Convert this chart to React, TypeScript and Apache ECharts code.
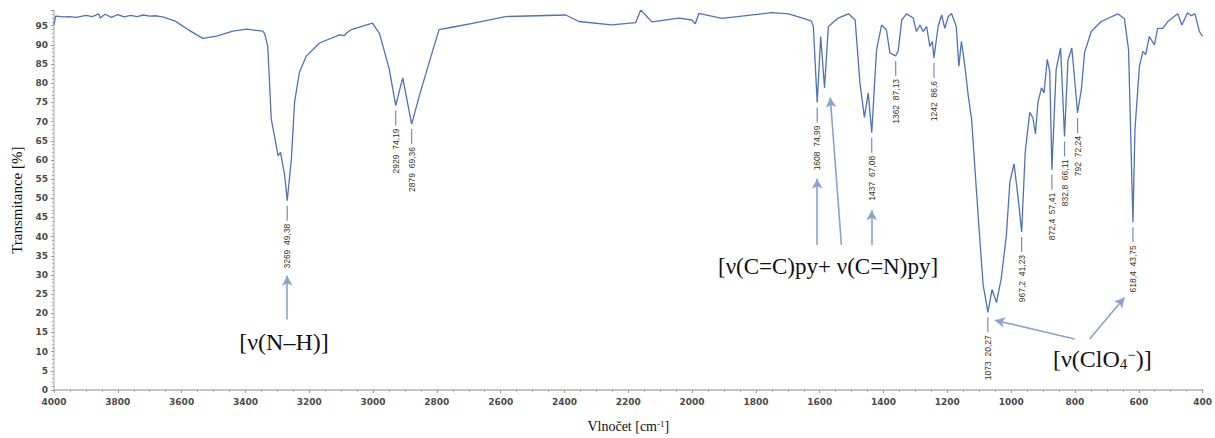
import React, { useEffect, useRef } from "react";
import * as echarts from "echarts";

// Spectrum: wavenumber [cm-1] and transmittance [%]
const wavenumbers = [
  4000, 3995, 3970, 3950, 3930, 3900, 3880, 3860, 3855, 3840, 3820, 3800, 3780, 3760, 3740, 3720, 3700, 3680,
  3660, 3647, 3620, 3580, 3534, 3490, 3440, 3396, 3346, 3340, 3330, 3319, 3309, 3298, 3290, 3277, 3269,
  3256, 3246, 3231, 3210, 3168, 3105, 3090, 3083, 3068, 3002, 2980, 2949, 2929, 2907, 2879, 2855, 2815,
  2793, 2740, 2689, 2584, 2396, 2355, 2252, 2177, 2161, 2126, 2041, 2001, 1990, 1979, 1907, 1751, 1698,
  1646, 1626, 1620, 1608, 1597, 1585, 1573, 1542, 1510, 1489, 1474, 1460, 1448, 1437, 1422, 1406, 1391,
  1380, 1362, 1354, 1343, 1328, 1307, 1297, 1286, 1276, 1265, 1255, 1247, 1242, 1229, 1218, 1208, 1197,
  1187, 1172, 1164, 1156, 1145, 1135, 1124, 1103, 1088, 1073, 1060, 1046, 1031, 1015, 1004, 991, 978,
  967.2, 956, 942, 932, 924, 916, 905, 897, 887, 879, 872.4, 859, 845, 832.8, 822, 810, 800, 792, 780,
  770, 749, 718, 666, 645, 632, 618.4, 612, 598, 587, 578, 567, 551, 541, 525, 509, 478, 465, 447, 436,
  424, 410, 400,
];
const transmittance = [
  95.2, 97.5, 97.3, 97.4, 97.2, 97.7, 97.4, 98.1, 97.0, 98.0, 97.2, 97.9, 97.3, 97.7, 97.4, 97.8, 97.5, 97.6,
  97.3, 97.0, 96.2, 94.0, 91.7, 92.3, 93.6, 94.1, 93.6, 93.0, 89.6, 70.6, 66.3, 61.1, 62.0, 56.0, 49.38,
  60.3, 75.0, 82.8, 87.0, 90.5, 92.6, 92.4, 93.1, 94.0, 95.7, 93.0, 83.6, 74.19, 81.4, 69.36, 76.7, 88.0,
  94.0, 94.8, 95.6, 97.4, 97.8, 96.1, 95.2, 95.8, 99.1, 96.0, 97.0, 96.5, 95.5, 98.2, 96.9, 98.4, 98.1,
  96.8, 96.2, 94.8, 74.99, 92.2, 78.8, 94.8, 97.0, 98.1, 96.5, 80.1, 71.1, 77.5, 67.08, 88.7, 95.2, 93.9,
  87.9, 87.13, 88.5, 96.5, 98.1, 97.0, 93.5, 95.2, 93.5, 94.8, 89.6, 90.9, 86.6, 94.8, 97.8, 94.3, 97.4,
  98.2, 94.8, 84.4, 90.9, 84.4, 77.0, 70.6, 44.8, 27.5, 20.27, 26.2, 22.8, 29.2, 40.4, 54.3, 59.0, 49.9,
  41.23, 62.0, 72.4, 71.0, 66.8, 75.0, 78.8, 77.5, 86.2, 83.0, 57.41, 83.6, 89.2, 66.11, 86.0, 89.2, 80.0, 72.24, 78.4,
  88.0, 93.5, 96.1, 98.1, 96.8, 88.7, 43.75, 68.0, 84.4, 88.3, 87.5, 92.2, 90.0, 94.3, 94.3, 96.1, 98.1, 95.2, 98.4, 97.6,
  98.1, 93.5, 92.2,
];

// Labelled peaks
const peakWavenumbers = [3269, 2929, 2879, 1608, 1437, 1362, 1242, 1073, 967.2, 872.4, 832.8, 792, 618.4];
const peakTransmittance = [49.38, 74.19, 69.36, 74.99, 67.08, 87.13, 86.6, 20.27, 41.23, 57.41, 66.11, 72.24, 43.75];

// Annotation arrows (data coordinates: start -> end)
const arrowStarts = [[3269, 18.4], [1608, 37.8], [1532, 37.8], [1437, 37.8], [801, 13.3], [754, 13.3]];
const arrowEnds = [[3269, 29.8], [1608, 55.1], [1567, 76.3], [1437, 46.9], [1051, 18.2], [645, 24.1]];

const xTicks = { min: 400, max: 4000, interval: 200 };
const yTicks = { min: 0, max: 99, interval: 5 };

const fmt = (n: number) => String(n).replace(".", ",");

export default function App() {
  const ref = useRef<HTMLDivElement>(null);
  useEffect(() => {
    document.body.style.margin = "0";
    const chart = echarts.init(ref.current!, null, { renderer: "svg" });
    const axisLabelStyle = { fontSize: 9, color: "#4a4a4a", fontWeight: "bold" as const, fontFamily: "DejaVu Sans" };
    const serif = "Liberation Serif";
    chart.setOption({
      animation: false,
      grid: { left: 54, right: 10, top: 10.4, bottom: 45 },
      xAxis: {
        type: "value",
        inverse: true,
        min: xTicks.min,
        max: xTicks.max,
        interval: xTicks.interval,
        axisLine: { lineStyle: { color: "#c4c4c4", width: 2 } },
        axisTick: { show: true, length: 3, lineStyle: { color: "#9a9a9a" } },
        minorTick: { show: true, splitNumber: 4, length: 2, lineStyle: { color: "#b0b0b0" } },
        splitLine: { show: false },
        axisLabel: { ...axisLabelStyle, margin: 7, formatter: (v: number) => String(v) },
        name: "{a|Vlnočet [cm}{s|-1}{a|]}",
        nameLocation: "middle",
        nameGap: 29,
        nameTextStyle: {
          rich: {
            a: { fontFamily: serif, fontSize: 14, color: "#111" },
            s: { fontFamily: serif, fontSize: 9, color: "#111", verticalAlign: "top" },
          },
        },
      },
      yAxis: {
        type: "value",
        min: yTicks.min,
        max: yTicks.max,
        interval: yTicks.interval,
        axisLine: { show: true, lineStyle: { color: "#c4c4c4", width: 1.5 } },
        axisTick: { show: true, length: 3, lineStyle: { color: "#9a9a9a" } },
        minorTick: { show: true, splitNumber: 5, length: 2, lineStyle: { color: "#b0b0b0" } },
        splitLine: { show: false },
        axisLabel: { ...axisLabelStyle, margin: 6, showMaxLabel: false, formatter: (v: number) => String(v) },
        name: "Transmitance [%]",
        nameLocation: "middle",
        nameRotate: 90,
        nameGap: 30,
        nameTextStyle: { fontFamily: serif, fontSize: 15, color: "#111" },
      },
      series: [
        {
          type: "line",
          data: wavenumbers.map((w, i) => [w, transmittance[i]]),
          showSymbol: false,
          silent: true,
          lineStyle: { color: "#4f72b8", width: 1.3 },
          markLine: {
            silent: true,
            symbol: ["none", "arrow"],
            symbolSize: [8, 10],
            label: { show: false },
            lineStyle: { color: "#8aa2d0", width: 1.6, type: "solid" },
            data: arrowStarts.map((s, i) => [{ coord: s }, { coord: arrowEnds[i] }]),
          },
        },
        {
          type: "custom",
          silent: true,
          data: peakWavenumbers.map((w, i) => [w, peakTransmittance[i], i]),
          renderItem: (params: any, api: any) => {
            const p = api.coord([api.value(0), api.value(1)]);
            const i = api.value(2);
            return {
              type: "group",
              children: [
                {
                  type: "line",
                  shape: { x1: p[0], y1: p[1] + 5, x2: p[0], y2: p[1] + 20 },
                  style: { stroke: "#6f8cc8", lineWidth: 1.2 },
                },
                {
                  type: "text",
                  x: p[0],
                  y: p[1] + 23,
                  rotation: Math.PI / 2,
                  style: {
                    text: fmt(peakWavenumbers[i]) + "  " + fmt(peakTransmittance[i]),
                    fontSize: 8.5,
                    fontFamily: "Liberation Sans",
                    fill: "#3a3320",
                    align: "right",
                    verticalAlign: "middle",
                  },
                },
              ],
            };
          },
        },
      ],
      graphic: [
        {
          type: "text",
          x: 284,
          y: 342,
          style: { text: "[ν(N–H)]", fontFamily: serif, fontSize: 24, fill: "#111", align: "center", verticalAlign: "middle" },
        },
        {
          type: "text",
          x: 718,
          y: 266,
          style: {
            text: "[ν(C=C)py+ ν(C=N)py]",
            fontFamily: serif,
            fontSize: 23,
            fill: "#111",
            align: "left",
            verticalAlign: "middle",
          },
        },
        {
          type: "text",
          x: 1053,
          y: 359,
          style: {
            text: "{a|[ν(ClO}{sub|4}{sup|−}{a|)]}",
            align: "left",
            verticalAlign: "middle",
            rich: {
              a: { fontFamily: serif, fontSize: 24, fill: "#111", color: "#111" },
              sub: { fontFamily: serif, fontSize: 15, color: "#111", fill: "#111", verticalAlign: "bottom" },
              sup: { fontFamily: serif, fontSize: 15, color: "#111", fill: "#111", verticalAlign: "top" },
            },
          },
        },
      ],
    });
    return () => chart.dispose();
  }, []);
  return <div ref={ref} style={{ width: 1215, height: 438 }} />;
}
